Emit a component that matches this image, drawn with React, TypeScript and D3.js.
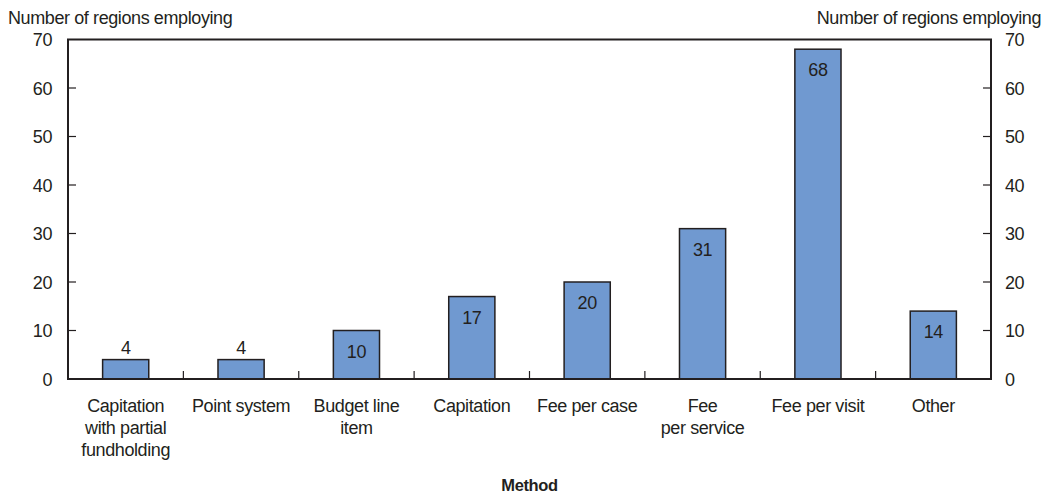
import React from 'react'
import * as d3 from 'd3'

const categories = [
  ['Capitation', 'with partial', 'fundholding'],
  ['Point system'],
  ['Budget line', 'item'],
  ['Capitation'],
  ['Fee per case'],
  ['Fee', 'per service'],
  ['Fee per visit'],
  ['Other'],
]
const values = [4, 4, 10, 17, 20, 31, 68, 14]
const yTicks = [0, 10, 20, 30, 40, 50, 60, 70]
const axisTitle = 'Number of regions employing'
const xTitle = 'Method'

const W = 1057
const H = 494
const FONT = '"Liberation Sans", Arial, sans-serif'
const INK = '#231f20'

export default function App() {
  const margin = { top: 39.5, right: 66, bottom: 115, left: 68 }
  const x0 = margin.left
  const x1 = W - margin.right
  const yBottom = H - margin.bottom

  const x = d3.scaleBand<number>()
    .domain(d3.range(categories.length))
    .range([x0, x1])
    .paddingInner(0)
  const y = d3.scaleLinear().domain([0, 70]).range([yBottom, margin.top])

  const bw = x.bandwidth() * 0.4
  const textStyle = { fontFamily: FONT, fontSize: 18, letterSpacing: -0.4, fill: INK }

  return (
    <svg width={W} height={H} style={{ position: 'absolute', left: 0, top: 0, display: 'block', background: '#fff' }}>
      {/* axis titles */}
      <text x={8} y={24} style={textStyle}>{axisTitle}</text>
      <text x={1041} y={24} textAnchor="end" style={textStyle}>{axisTitle}</text>

      {/* bars */}
      {values.map((v, i) => {
        const cx = (x(i) as number) + x.bandwidth() / 2
        const top = y(v)
        const inside = yBottom - top > 35
        return (
          <g key={i}>
            <rect x={cx - bw / 2} y={top} width={bw} height={yBottom - top}
              fill="#7099d0" stroke={INK} strokeWidth={1.5} />
            <text x={cx} y={inside ? top + 27 : top - 6} textAnchor="middle" style={textStyle}>{v}</text>
          </g>
        )
      })}

      {/* frame */}
      <rect x={x0} y={margin.top} width={x1 - x0} height={yBottom - margin.top}
        fill="none" stroke={INK} strokeWidth={2} />

      {/* y ticks */}
      {yTicks.map(t => (
        <g key={t}>
          {t > 0 && t < 70 && <line x1={x0} x2={x0 + 8} y1={y(t)} y2={y(t)} stroke={INK} strokeWidth={1.2} />}
          {t > 0 && t < 70 && <line x1={x1} x2={x1 - 8} y1={y(t)} y2={y(t)} stroke={INK} strokeWidth={1.2} />}
          <text x={52} y={y(t) + 6.5} textAnchor="end" style={textStyle}>{t}</text>
          <text x={1005} y={y(t) + 6.5} style={textStyle}>{t}</text>
        </g>
      ))}

      {/* category separators */}
      {d3.range(1, categories.length).map(i => (
        <line key={i} x1={x(i) as number} x2={x(i) as number} y1={yBottom} y2={yBottom - 8}
          stroke={INK} strokeWidth={1.2} />
      ))}

      {/* category labels */}
      {categories.map((lines, i) => (
        <text key={i} x={(x(i) as number) + x.bandwidth() / 2} y={412} textAnchor="middle" style={textStyle}>
          {lines.map((l, j) => (
            <tspan key={j} x={(x(i) as number) + x.bandwidth() / 2} dy={j === 0 ? 0 : 22}>{l}</tspan>
          ))}
        </text>
      ))}

      <text x={(x0 + x1) / 2} y={491} textAnchor="middle"
        style={{ ...textStyle, fontWeight: 'bold', fontSize: 16.5 }}>{xTitle}</text>
    </svg>
  )
}
